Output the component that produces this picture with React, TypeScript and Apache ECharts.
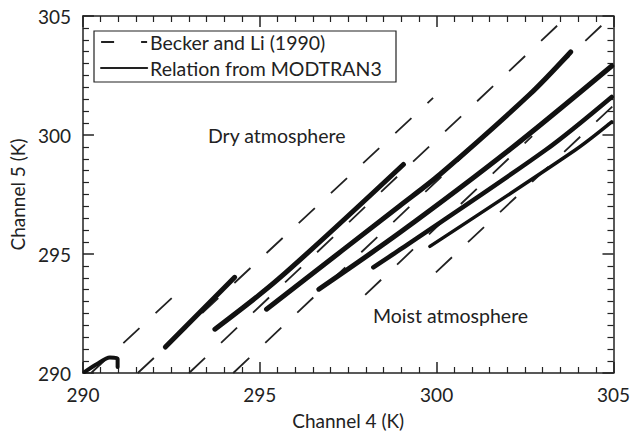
import React, { useEffect, useRef } from "react";
import * as echarts from "echarts";

const FONT = "Lato";
const INK = "#222";

// Axis ranges / ticks
const axisMin = 290;
const axisMax = 305;
const axisStep = 5;

// Becker and Li (1990) dashed relations: [Channel 4, Channel 5]
const beckerW = [[290.23, 290.0], [292.6, 293.27]];
const beckerU = [[291.55, 290.0], [299.9, 301.56]];
const beckerV = [[293.0, 290.0], [303.7, 305.0]];
const beckerX = [[294.25, 290.0], [304.95, 305.0]];
const beckerY = [[297.98, 293.28], [302.7, 299.95]];
const beckerZ = [[299.98, 294.23], [305.0, 301.24]];

// Relations from MODTRAN3 (solid)
const modHook = [[290.05, 290.05], [290.4, 290.38], [290.76, 290.65], [290.98, 290.6], [290.98, 290.25]];
const modS2 = [[292.33, 291.09], [294.29, 294.02]];
const modA = [[293.73, 291.84], [295.52, 293.94], [299.06, 298.76]];
const modB = [[295.19, 292.68], [298.97, 297.04], [300.09, 298.34], [302.62, 301.69], [303.79, 303.49]];
const modC = [[296.67, 293.52], [298.97, 295.91], [302.06, 299.38], [304.95, 302.9]];
const modD = [[298.21, 294.44], [298.97, 295.19], [303.09, 299.38], [304.95, 301.6]];
const modE = [[299.81, 295.32], [303.93, 299.38], [304.95, 300.55]];

const BECKER = "Becker and Li (1990)";
const MODTRAN = "Relation from MODTRAN3";

const dashedSets = [beckerW, beckerU, beckerV, beckerX, beckerY, beckerZ];
const solidSets = [modHook, modS2, modA, modB, modC, modD, modE];
const solidWidths = [4, 5, 5, 5, 5, 4.5, 3.5];

function axisBase() {
  return {
    type: "value",
    min: axisMin,
    max: axisMax,
    interval: axisStep,
    axisLine: { show: true, onZero: false, lineStyle: { color: INK, width: 1.5 } },
    axisTick: { show: true, inside: true, length: 11, lineStyle: { color: INK, width: 1.5 } },
    minorTick: { show: true, splitNumber: 10, length: 6, lineStyle: { color: INK, width: 1.2 } },
    splitLine: { show: false },
    minorSplitLine: { show: false },
  };
}

export default function App() {
  const ref = useRef<HTMLDivElement>(null);
  useEffect(() => {
    const chart = echarts.init(ref.current as HTMLDivElement, null, { renderer: "svg" });
    const labelStyle = { fontSize: 19, fontFamily: FONT, color: INK };
    const series: any[] = [];
    dashedSets.forEach((d) => {
      series.push({
        type: "line",
        name: BECKER,
        data: d,
        symbol: "none",
        silent: true,
        z: 2,
        itemStyle: { color: INK },
        lineStyle: { color: INK, width: 1.8, type: [22, 22] },
      });
    });
    solidSets.forEach((d, i) => {
      series.push({
        type: "line",
        name: MODTRAN,
        data: d,
        symbol: "none",
        silent: true,
        smooth: 0.3,
        z: 3,
        itemStyle: { color: "#111" },
        lineStyle: { color: "#111", width: solidWidths[i], cap: "round", join: "round" },
      });
    });
    chart.setOption({
      animation: false,
      backgroundColor: "#fff",
      grid: { left: 80, right: 18, top: 16, bottom: 61, containLabel: false },
      xAxis: [
        {
          ...axisBase(),
          position: "bottom",
          name: "Channel 4 (K)",
          nameLocation: "middle",
          nameGap: 38,
          nameTextStyle: labelStyle,
          axisLabel: { ...labelStyle, margin: 12 },
        },
        { ...axisBase(), position: "top", axisLabel: { show: false } },
      ],
      yAxis: [
        {
          ...axisBase(),
          position: "left",
          name: "Channel 5 (K)",
          nameLocation: "middle",
          nameGap: 52,
          nameTextStyle: labelStyle,
          axisLabel: { ...labelStyle, margin: 12 },
        },
        { ...axisBase(), position: "right", axisLabel: { show: false } },
      ],
      legend: {
        left: 94,
        top: 29,
        orient: "vertical",
        padding: [3, 6, 5, 6],
        itemGap: 6,
        itemWidth: 46,
        itemHeight: 14,
        selectedMode: false,
        textStyle: { fontSize: 19.5, fontFamily: FONT, color: INK, padding: [0, 0, 0, -2] },
        data: [
          {
            name: BECKER,
            itemStyle: { opacity: 0 },
            lineStyle: { width: 1.8, type: [13, 27], color: INK },
          },
          {
            name: MODTRAN,
            itemStyle: { opacity: 0 },
            lineStyle: { width: 2.2, type: "solid", color: INK },
          },
        ],
      },
      graphic: [
        {
          type: "rect",
          shape: { x: 94, y: 31, width: 302, height: 51 },
          style: { fill: "none", stroke: INK, lineWidth: 1.2 },
          z: 10,
        },
        {
          type: "text",
          x: 208,
          y: 135,
          style: { text: "Dry atmosphere", fontSize: 19.5, fontFamily: FONT, fill: INK, verticalAlign: "middle" },
        },
        {
          type: "text",
          x: 373,
          y: 315,
          style: { text: "Moist atmosphere", fontSize: 19.5, fontFamily: FONT, fill: INK, verticalAlign: "middle" },
        },
      ],
      series,
    });
    return () => chart.dispose();
  }, []);
  return <div ref={ref} style={{ position: "absolute", left: 0, top: 0, width: 633, height: 435 }} />;
}
